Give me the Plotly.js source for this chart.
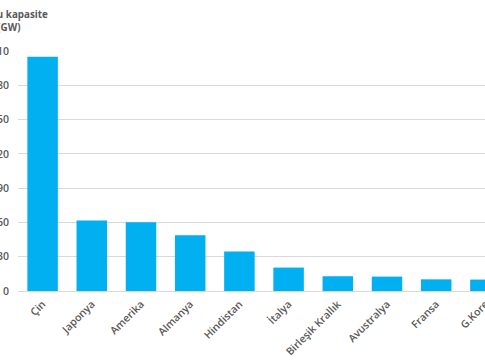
<!DOCTYPE html>
<html>
<head>
<meta charset="utf-8">
<script src="https://cdn.plot.ly/plotly-3.0.1.min.js"></script>
<style>html,body{margin:0;padding:0;background:#fff;overflow:hidden;}#chart{width:520px;height:360px;}</style>
</head>
<body>
<div id="chart"></div>
<script>
const countries = ["Çin", "Japonya", "Amerika", "Almanya", "Hindistan", "İtalya", "Birleşik Krallık", "Avustralya", "Fransa", "G.Kore"];
const capacityGW = [205, 61.7, 60.2, 48.8, 34.5, 20.5, 12.9, 12.6, 10.2, 10.0];
const yTicks = [0, 30, 60, 90, 120, 150, 180, 210];
const titleLines = ["Kurulu kapasite", "(GW)"];

const trace = {
  type: "bar",
  x: countries.map((c, i) => i),
  y: capacityGW,
  marker: { color: "#00B0F0" },
  width: 0.62,
  hoverinfo: "x+y"
};

const layout = {
  width: 520,
  height: 360,
  margin: { l: 18, r: 10, t: 51, b: 69 },
  paper_bgcolor: "#ffffff",
  plot_bgcolor: "#ffffff",
  showlegend: false,
  font: { family: "Open Sans, sans-serif", size: 10, color: "#595959" },
  xaxis: {
    range: [-0.5, 9.5],
    tickmode: "array",
    tickvals: countries.map((c, i) => i),
    ticktext: countries,
    tickangle: -45,
    ticks: "",
    showgrid: false,
    zeroline: false,
    showline: false,
    automargin: false,
    ticklabelstandoff: 4,
    tickfont: { size: 10.5, color: "#595959", weight: 600 }
  },
  yaxis: {
    range: [0, 210],
    tickmode: "array",
    tickvals: yTicks,
    ticktext: yTicks.map(String),
    ticks: "",
    showgrid: true,
    gridcolor: "#D9D9D9",
    gridwidth: 1,
    zeroline: true,
    zerolinecolor: "#D9D9D9",
    zerolinewidth: 1,
    showline: false,
    automargin: false,
    ticklabelstandoff: 8,
    tickfont: { size: 10.5, color: "#595959", weight: 600 }
  },
  annotations: [{
    xref: "paper", yref: "paper",
    x: -9.5 / 492, y: 1.125,
    xanchor: "center", yanchor: "middle",
    align: "center",
    showarrow: false,
    text: "<b>" + titleLines.join("</b><br><b>") + "</b>",
    font: { family: "Open Sans, sans-serif", size: 9.8, color: "#595959" }
  }]
};

Plotly.newPlot("chart", [trace], layout, { staticPlot: true, displayModeBar: false });
</script>
</body>
</html>
